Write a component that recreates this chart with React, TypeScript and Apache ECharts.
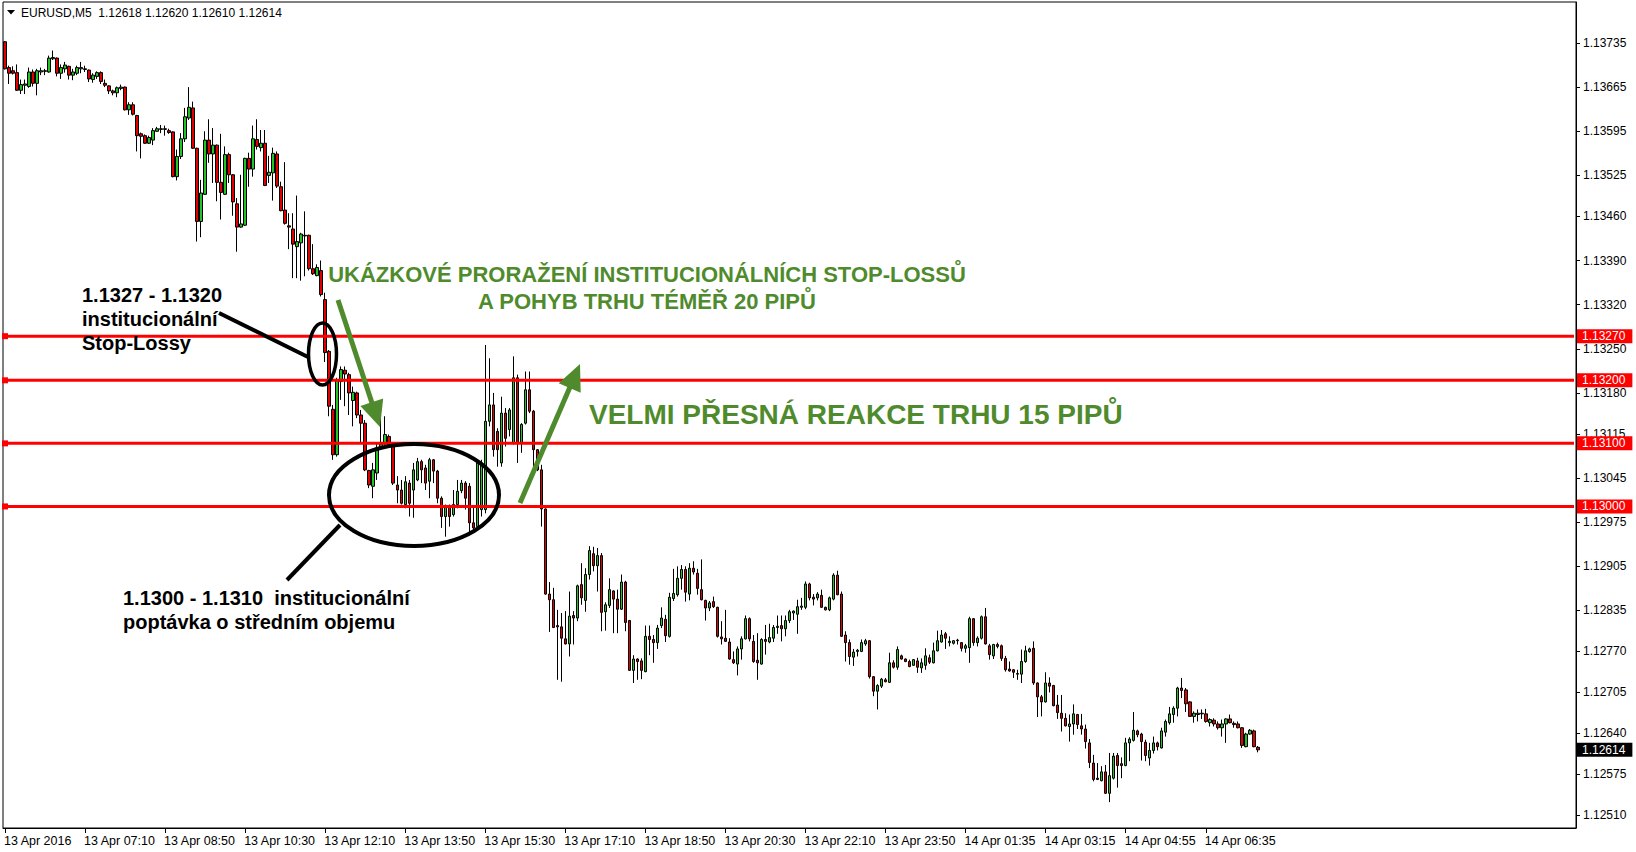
import React, { useEffect, useRef } from "react";
import * as echarts from "echarts";

const symbolName = "EURUSD,M5";

const xTickLabels = [
  "13 Apr 2016", "13 Apr 07:10", "13 Apr 08:50", "13 Apr 10:30", "13 Apr 12:10", "13 Apr 13:50",
  "13 Apr 15:30", "13 Apr 17:10", "13 Apr 18:50", "13 Apr 20:30", "13 Apr 22:10", "13 Apr 23:50",
  "14 Apr 01:35", "14 Apr 03:15", "14 Apr 04:55", "14 Apr 06:35",
];

const yTickValues = [
  1.13735, 1.13665, 1.13595, 1.13525, 1.1346, 1.1339, 1.1332, 1.1325, 1.1318, 1.13115,
  1.13045, 1.12975, 1.12905, 1.12835, 1.1277, 1.12705, 1.1264, 1.12575, 1.1251,
];

const levelLines = [1.1327, 1.132, 1.131, 1.13];

// [open, close, low, high]
const ohlcPart1 = [
  [1.13737, 1.13694, 1.13693, 1.13738], [1.13696, 1.13687, 1.1367, 1.13699], [1.13691, 1.13687, 1.13685, 1.13698],
  [1.13688, 1.1366, 1.13659, 1.13701], [1.1366, 1.13669, 1.13654, 1.13677], [1.13668, 1.1367, 1.13654, 1.13677],
  [1.13666, 1.13689, 1.13664, 1.13696], [1.13689, 1.13671, 1.13666, 1.13693], [1.13671, 1.13691, 1.13652, 1.13694],
  [1.13689, 1.13691, 1.13684, 1.13696], [1.1369, 1.13691, 1.13684, 1.13694], [1.13689, 1.13711, 1.13688, 1.13715],
  [1.1371, 1.13712, 1.13708, 1.13723], [1.13711, 1.13687, 1.13682, 1.13712], [1.13687, 1.13696, 1.13678, 1.13701],
  [1.13694, 1.137, 1.13688, 1.13705], [1.13698, 1.13684, 1.13677, 1.13699], [1.13684, 1.13689, 1.13676, 1.13694],
  [1.13687, 1.13696, 1.13684, 1.13699], [1.13694, 1.13696, 1.13687, 1.13705], [1.13694, 1.13693, 1.13689, 1.13699],
  [1.13692, 1.13678, 1.13673, 1.13693], [1.13677, 1.13684, 1.13672, 1.13687], [1.13682, 1.13688, 1.13678, 1.1369],
  [1.13688, 1.13674, 1.1367, 1.1369], [1.13671, 1.13668, 1.13665, 1.13677], [1.13667, 1.13659, 1.13654, 1.13668],
  [1.13659, 1.13656, 1.13652, 1.13661], [1.13656, 1.13664, 1.13649, 1.13666], [1.13663, 1.13665, 1.1366, 1.13669],
  [1.13665, 1.13629, 1.13628, 1.13666], [1.13629, 1.13637, 1.13621, 1.13641], [1.13637, 1.13622, 1.1362, 1.13641],
  [1.1362, 1.13588, 1.13563, 1.13621], [1.13591, 1.13587, 1.13552, 1.13593], [1.13588, 1.13576, 1.13575, 1.1359],
  [1.13576, 1.13585, 1.13575, 1.13588], [1.13581, 1.13596, 1.13573, 1.136], [1.13595, 1.13599, 1.13594, 1.13602],
  [1.13598, 1.13599, 1.13592, 1.13605], [1.13599, 1.13598, 1.13588, 1.13604], [1.13596, 1.13593, 1.13591, 1.13599],
  [1.13594, 1.13523, 1.13522, 1.13595], [1.13523, 1.13555, 1.13517, 1.13566], [1.13555, 1.13583, 1.13551, 1.13592],
  [1.13583, 1.13618, 1.13578, 1.13632], [1.13616, 1.13633, 1.13613, 1.13665], [1.13632, 1.13568, 1.13567, 1.13642],
  [1.13568, 1.13452, 1.1342, 1.13569], [1.13452, 1.13497, 1.13427, 1.13518], [1.13495, 1.13581, 1.13494, 1.13595],
  [1.13581, 1.13559, 1.13545, 1.13614], [1.13559, 1.13573, 1.13513, 1.136], [1.13573, 1.13514, 1.13484, 1.13574],
  [1.13514, 1.13498, 1.13455, 1.13591], [1.13495, 1.13558, 1.13494, 1.13571], [1.13558, 1.13526, 1.13513, 1.13561],
  [1.13526, 1.13483, 1.13461, 1.13527], [1.1348, 1.13443, 1.13404, 1.13489], [1.13443, 1.13448, 1.13442, 1.13526],
  [1.13446, 1.13552, 1.13445, 1.13553], [1.13552, 1.13535, 1.13507, 1.13561], [1.13535, 1.13583, 1.13523, 1.13604],
  [1.13582, 1.13571, 1.13566, 1.13614], [1.13569, 1.13576, 1.13563, 1.13597], [1.13576, 1.13509, 1.13508, 1.13597],
  [1.13525, 1.1353, 1.13513, 1.13556], [1.13529, 1.1356, 1.13485, 1.13569], [1.13559, 1.13508, 1.13505, 1.13563],
  [1.13507, 1.13469, 1.13468, 1.13515], [1.1347, 1.13449, 1.13447, 1.13546], [1.13445, 1.13443, 1.13408, 1.13465],
  [1.1344, 1.13416, 1.13362, 1.13465], [1.13412, 1.1342, 1.13362, 1.13493], [1.13418, 1.13432, 1.13358, 1.13434],
  [1.1343, 1.13429, 1.13365, 1.13468], [1.1343, 1.13377, 1.13374, 1.13431], [1.13377, 1.13369, 1.13367, 1.13416],
  [1.13366, 1.13379, 1.13365, 1.13384], [1.13374, 1.13336, 1.13333, 1.1339],
];

const ohlcPart2 = [
  [1.13328, 1.13244, 1.13229, 1.13339], [1.13246, 1.13159, 1.13143, 1.13248], [1.13154, 1.13082, 1.13074, 1.13161],
  [1.13082, 1.13201, 1.13079, 1.13204], [1.13198, 1.13217, 1.13169, 1.13222], [1.13216, 1.1321, 1.13159, 1.13222],
  [1.13209, 1.1318, 1.13145, 1.13212], [1.13168, 1.13181, 1.13127, 1.1319], [1.1318, 1.13145, 1.1314, 1.13182],
  [1.13145, 1.13132, 1.13101, 1.13153], [1.13132, 1.13058, 1.13056, 1.13137], [1.13057, 1.13034, 1.13029, 1.13058],
  [1.13032, 1.13058, 1.13013, 1.13069], [1.13053, 1.13093, 1.13042, 1.13101], [1.13093, 1.13099, 1.1309, 1.13143],
  [1.13099, 1.13114, 1.13095, 1.13143], [1.13111, 1.13098, 1.13093, 1.13114], [1.13098, 1.13037, 1.13034, 1.131],
  [1.13034, 1.13026, 1.13005, 1.13048], [1.13026, 1.13005, 1.13003, 1.13042], [1.13003, 1.13039, 1.12997, 1.13048],
  [1.13037, 1.13005, 1.12984, 1.13042], [1.13026, 1.13058, 1.12982, 1.13069], [1.13042, 1.13071, 1.1304, 1.13077],
  [1.13071, 1.13058, 1.13037, 1.13074], [1.13061, 1.13037, 1.13026, 1.13066], [1.1304, 1.13074, 1.13013, 1.13077],
  [1.13074, 1.13056, 1.13037, 1.13075], [1.13056, 1.13013, 1.13005, 1.13058], [1.13013, 1.12984, 1.12966, 1.13016],
  [1.12984, 1.13, 1.12952, 1.13003], [1.13, 1.12984, 1.12968, 1.13003], [1.12987, 1.13003, 1.12984, 1.13026],
  [1.13003, 1.13024, 1.12997, 1.13042], [1.13025, 1.13037, 1.13021, 1.13042], [1.13037, 1.13013, 1.12995, 1.1304],
  [1.13032, 1.12974, 1.12958, 1.13037], [1.12974, 1.12966, 1.12963, 1.13], [1.12968, 1.13069, 1.12963, 1.1307],
  [1.12995, 1.13069, 1.12984, 1.13074], [1.12995, 1.13135, 1.12989, 1.13256], [1.13135, 1.13161, 1.13127, 1.13235],
  [1.13161, 1.1309, 1.13079, 1.1318], [1.13119, 1.1309, 1.13063, 1.13124], [1.13069, 1.13148, 1.13063, 1.13174],
  [1.13148, 1.13108, 1.13095, 1.13156], [1.13122, 1.13153, 1.13111, 1.13156], [1.13101, 1.13204, 1.13098, 1.13238],
  [1.13204, 1.13101, 1.13069, 1.13209], [1.13101, 1.1313, 1.13085, 1.13132], [1.13132, 1.13185, 1.1313, 1.13214],
  [1.13185, 1.13151, 1.13148, 1.13214], [1.13151, 1.1309, 1.13061, 1.13153], [1.1309, 1.13058, 1.13056, 1.13091],
  [1.13058, 1.12996, 1.12968, 1.13066], [1.12996, 1.12861, 1.1286, 1.12997], [1.12861, 1.12852, 1.12801, 1.1288],
  [1.12852, 1.12808, 1.12807, 1.12871], [1.12811, 1.12809, 1.12725, 1.12836], [1.12809, 1.12791, 1.12722, 1.12831],
  [1.1279, 1.12782, 1.12781, 1.12834], [1.12782, 1.12826, 1.12762, 1.12865], [1.12827, 1.12823, 1.12781, 1.12834],
  [1.12823, 1.12874, 1.12818, 1.12876], [1.12876, 1.12855, 1.12844, 1.1291], [1.12851, 1.12892, 1.12833, 1.12902],
  [1.12892, 1.1293, 1.12884, 1.12937], [1.12925, 1.12906, 1.12897, 1.12936], [1.12906, 1.12922, 1.12865, 1.12934],
  [1.12922, 1.12832, 1.12802, 1.12926], [1.12833, 1.12844, 1.12803, 1.12848], [1.12843, 1.12868, 1.12839, 1.12886],
  [1.12866, 1.12853, 1.12799, 1.12867], [1.12853, 1.12837, 1.12799, 1.12868], [1.12837, 1.1288, 1.12836, 1.12892],
  [1.1288, 1.12816, 1.12802, 1.12882], [1.12819, 1.1274, 1.12739, 1.1282], [1.1274, 1.12758, 1.1272, 1.12764],
  [1.12758, 1.12754, 1.12725, 1.12759], [1.12755, 1.1274, 1.12726, 1.12759],
];

const ohlcPart3 = [
  [1.12738, 1.12794, 1.12737, 1.12811], [1.12794, 1.12789, 1.12764, 1.12811], [1.12789, 1.12784, 1.12752, 1.12796],
  [1.12784, 1.12807, 1.12774, 1.12812], [1.12811, 1.12823, 1.12807, 1.1284], [1.12821, 1.12795, 1.12785, 1.12828],
  [1.12794, 1.12856, 1.12792, 1.12863], [1.12854, 1.12862, 1.1285, 1.12901], [1.1286, 1.12886, 1.12857, 1.12905],
  [1.12886, 1.129, 1.12868, 1.12907], [1.129, 1.12864, 1.12849, 1.12905], [1.12861, 1.12902, 1.12851, 1.1291],
  [1.12902, 1.12896, 1.12892, 1.12913], [1.12894, 1.1287, 1.1286, 1.12901], [1.12868, 1.12852, 1.12851, 1.12916],
  [1.12851, 1.12839, 1.12819, 1.12852], [1.12839, 1.12847, 1.12834, 1.1285], [1.12849, 1.12841, 1.12839, 1.12857],
  [1.1284, 1.12794, 1.12792, 1.12841], [1.12793, 1.1279, 1.12781, 1.12818], [1.12791, 1.12786, 1.12785, 1.12836],
  [1.12785, 1.12758, 1.12757, 1.12791], [1.12757, 1.12752, 1.1275, 1.1277], [1.1275, 1.12774, 1.12732, 1.12778],
  [1.12774, 1.1279, 1.12757, 1.12794], [1.1279, 1.12822, 1.12789, 1.12827], [1.12822, 1.1279, 1.12786, 1.12824],
  [1.12786, 1.12754, 1.12752, 1.12796], [1.12756, 1.12752, 1.12725, 1.12799], [1.1275, 1.12789, 1.12749, 1.12791],
  [1.12789, 1.12786, 1.12765, 1.12812], [1.12785, 1.12792, 1.12783, 1.12814], [1.12791, 1.12808, 1.12785, 1.12812],
  [1.12808, 1.1281, 1.12798, 1.12827], [1.12811, 1.12806, 1.12786, 1.12827], [1.12806, 1.12819, 1.12794, 1.12827],
  [1.12819, 1.12833, 1.12815, 1.12836], [1.12831, 1.12834, 1.1282, 1.12835], [1.12829, 1.12841, 1.12798, 1.12852],
  [1.1284, 1.12842, 1.12836, 1.12855], [1.1284, 1.12877, 1.12837, 1.12881], [1.12877, 1.12855, 1.12851, 1.12879],
  [1.12856, 1.12853, 1.12843, 1.12861], [1.12855, 1.12861, 1.12851, 1.12864], [1.12859, 1.1284, 1.12839, 1.12868],
  [1.1284, 1.12836, 1.12835, 1.12841], [1.12836, 1.12855, 1.12834, 1.12857], [1.12853, 1.12891, 1.12851, 1.12894],
  [1.12891, 1.1286, 1.12859, 1.12898], [1.12861, 1.12794, 1.12793, 1.12865], [1.12796, 1.12784, 1.12754, 1.12802],
  [1.12784, 1.12762, 1.12749, 1.12789], [1.12761, 1.12769, 1.12747, 1.12774], [1.1277, 1.12772, 1.12762, 1.12774],
  [1.1277, 1.12784, 1.12769, 1.12789], [1.12782, 1.12787, 1.12779, 1.1279], [1.12787, 1.1273, 1.12727, 1.12788],
  [1.1273, 1.12707, 1.12699, 1.12731], [1.12707, 1.12716, 1.12678, 1.12718], [1.12715, 1.12726, 1.12712, 1.12728],
  [1.12725, 1.12722, 1.12721, 1.12728], [1.12721, 1.12752, 1.1272, 1.12768], [1.12752, 1.12745, 1.12743, 1.12756],
  [1.12745, 1.12773, 1.12741, 1.12778], [1.12763, 1.12758, 1.12757, 1.12765], [1.12758, 1.12754, 1.12753, 1.12759],
  [1.12754, 1.12746, 1.12745, 1.12757], [1.12748, 1.12757, 1.12747, 1.12758], [1.12755, 1.12745, 1.12736, 1.1276],
  [1.12744, 1.12752, 1.12736, 1.12759], [1.12748, 1.12763, 1.12741, 1.12775], [1.1276, 1.12753, 1.1275, 1.12765],
  [1.12752, 1.12771, 1.12751, 1.12784], [1.12771, 1.12787, 1.1277, 1.12803], [1.12785, 1.12796, 1.12784, 1.12804],
  [1.12798, 1.12791, 1.12774, 1.12801], [1.12784, 1.12786, 1.12778, 1.12794], [1.12783, 1.12787, 1.12781, 1.12788],
  [1.12787, 1.12788, 1.12781, 1.1279], [1.12784, 1.12775, 1.1277, 1.12785],
];

const ohlcPart4 = [
  [1.12775, 1.12779, 1.12768, 1.12782], [1.12776, 1.12822, 1.12752, 1.12825], [1.12822, 1.12784, 1.12779, 1.12823],
  [1.12784, 1.12791, 1.12778, 1.12794], [1.12791, 1.12825, 1.12789, 1.12827], [1.12825, 1.12782, 1.12781, 1.12839],
  [1.12779, 1.12765, 1.12757, 1.12782], [1.12763, 1.12781, 1.12758, 1.12782], [1.12781, 1.12778, 1.12775, 1.12784],
  [1.12779, 1.12759, 1.12755, 1.12781], [1.12759, 1.12741, 1.12738, 1.12763], [1.12742, 1.12739, 1.12738, 1.12754],
  [1.12741, 1.12737, 1.12728, 1.12742], [1.12735, 1.12734, 1.12725, 1.12741], [1.12734, 1.12754, 1.1272, 1.12773],
  [1.12754, 1.12771, 1.12752, 1.12779], [1.1277, 1.12774, 1.12768, 1.12776], [1.12775, 1.1272, 1.12717, 1.12786],
  [1.1272, 1.12698, 1.12666, 1.12721], [1.12698, 1.1269, 1.12667, 1.12701], [1.1269, 1.1272, 1.12689, 1.12737],
  [1.1272, 1.12715, 1.12705, 1.12729], [1.12716, 1.12684, 1.12683, 1.12717], [1.12685, 1.12673, 1.12663, 1.12701],
  [1.12672, 1.12664, 1.12643, 1.12701], [1.12664, 1.12652, 1.12651, 1.12672], [1.12651, 1.12655, 1.12627, 1.1267],
  [1.12655, 1.12671, 1.12638, 1.12686], [1.1267, 1.12654, 1.12647, 1.12671], [1.12652, 1.12647, 1.12638, 1.12671],
  [1.12647, 1.12627, 1.12616, 1.12654], [1.12625, 1.12594, 1.12585, 1.12631], [1.12593, 1.12567, 1.12564, 1.12606],
  [1.12569, 1.12567, 1.12566, 1.12593], [1.12565, 1.12579, 1.12564, 1.12588], [1.12579, 1.12545, 1.12544, 1.1259],
  [1.12545, 1.12573, 1.12531, 1.12609], [1.12569, 1.12604, 1.12567, 1.12609], [1.12605, 1.12589, 1.12554, 1.12609],
  [1.12592, 1.12589, 1.12569, 1.12602], [1.12589, 1.12625, 1.12588, 1.12633], [1.12625, 1.12631, 1.12596, 1.12634],
  [1.12629, 1.12645, 1.12627, 1.12674], [1.12644, 1.12638, 1.12634, 1.12646], [1.12639, 1.12627, 1.12597, 1.12641],
  [1.12626, 1.12605, 1.12596, 1.1263], [1.12601, 1.12613, 1.12589, 1.12625], [1.12613, 1.12625, 1.12608, 1.12635],
  [1.12625, 1.12619, 1.12613, 1.12627], [1.12617, 1.12644, 1.12616, 1.12649], [1.12642, 1.12659, 1.12635, 1.12662],
  [1.12657, 1.12671, 1.12654, 1.12682], [1.1267, 1.1268, 1.12657, 1.12683], [1.1268, 1.12712, 1.12667, 1.12714],
  [1.12712, 1.12708, 1.12696, 1.12728], [1.12709, 1.12687, 1.12674, 1.12712], [1.1269, 1.12667, 1.12666, 1.12691],
  [1.12667, 1.12672, 1.12657, 1.12675], [1.1267, 1.12672, 1.12659, 1.12678], [1.12672, 1.12671, 1.12663, 1.12678],
  [1.12671, 1.12659, 1.12657, 1.12679], [1.12657, 1.12662, 1.12651, 1.12664], [1.12661, 1.12655, 1.12651, 1.12664],
  [1.12655, 1.12649, 1.12646, 1.12659], [1.12649, 1.12655, 1.12635, 1.12662], [1.12655, 1.12663, 1.12625, 1.12664],
  [1.12663, 1.12657, 1.12656, 1.1267], [1.12656, 1.12654, 1.12649, 1.12659], [1.12655, 1.12649, 1.12648, 1.12659],
  [1.12649, 1.12621, 1.12617, 1.1265], [1.12619, 1.12639, 1.12618, 1.12641], [1.12639, 1.12645, 1.12638, 1.12647],
  [1.12644, 1.12619, 1.12618, 1.12646], [1.12618, 1.12614, 1.1261, 1.1262],
];

const TOTAL_SLOTS = 393;
const FONT = '"Liberation Sans", Arial, sans-serif';
const GREEN = "#4f8b2c";

export default function App() {
  const ref = useRef<HTMLDivElement>(null);

  useEffect(() => {
    document.body.style.margin = "0";
    const el = ref.current;
    if (!el) return;
    const chart = echarts.init(el, null, { renderer: "svg" });

    const rows = [...ohlcPart1, ...ohlcPart2, ...ohlcPart3, ...ohlcPart4];
    const categories = Array.from({ length: TOTAL_SLOTS }, (_, i) => String(i));
    const last = rows[rows.length - 1];
    const f5 = (v: number) => v.toFixed(5);
    const header = `${symbolName}\u00a0\u00a0${f5(last[0])} ${f5(last[3])} ${f5(last[2])} ${f5(last[1])}`;
    const isTick = (i: number) => i % 20 === 0 && i / 20 < xTickLabels.length;

    const tag = (v: number, bg: string) => ({
      show: true,
      formatter: () => f5(v),
      distance: 3,
      color: "#fff",
      backgroundColor: bg,
      padding: [1, 7, 0, 5],
      fontSize: 12,
      fontFamily: FONT,
      lineHeight: 13,
      valueAnimation: false,
    });

    const levelSeries = levelLines.map((v, k) => ({
      type: "line",
      name: "level" + k,
      data: [
        [0, v],
        [TOTAL_SLOTS - 1, v],
      ],
      silent: true,
      clip: false,
      z: 5,
      showSymbol: true,
      symbol: "rect",
      symbolSize: 6,
      itemStyle: { color: "#ff0000" },
      lineStyle: { color: "#ff0000", width: 3, type: "solid" },
      endLabel: tag(v, "#ff0000"),
      label: { show: false },
    }));

    const priceSeries = {
      type: "line",
      name: "price",
      data: [
        [0, last[1]],
        [TOTAL_SLOTS - 1, last[1]],
      ],
      silent: true,
      clip: false,
      z: 5,
      showSymbol: false,
      symbol: "none",
      lineStyle: { color: "#ffffff", width: 0 },
      endLabel: tag(last[1], "#000"),
    };

    const black = { stroke: "#000", fill: "none" };

    const option: any = {
      animation: false,
      backgroundColor: "#fff",
      grid: {
        left: 3,
        right: 60,
        top: 2,
        bottom: 24,
        show: true,
        borderColor: "#000",
        borderWidth: 1,
      },
      xAxis: {
        type: "category",
        data: categories,
        boundaryGap: true,
        axisLine: { show: true, lineStyle: { color: "#000", width: 1 } },
        axisTick: {
          show: true,
          alignWithLabel: true,
          interval: (i: number) => isTick(i),
          length: 5,
          lineStyle: { color: "#000" },
        },
        axisLabel: {
          interval: (i: number) => isTick(i),
          formatter: (_v: string, i: number) => xTickLabels[i / 20] ?? "",
          align: "left",
          padding: [0, 0, 0, -1],
          color: "#000",
          fontSize: 12.5,
          fontFamily: FONT,
          margin: 6,
        },
        splitLine: { show: false },
      },
      yAxis: {
        type: "value",
        position: "right",
        min: 1.1249,
        max: 1.138,
        axisLine: { show: true, lineStyle: { color: "#000", width: 1 } },
        axisTick: {
          show: true,
          length: 4,
          customValues: yTickValues,
          lineStyle: { color: "#000" },
        },
        axisLabel: {
          customValues: yTickValues,
          formatter: (v: number) => v.toFixed(5),
          color: "#000",
          fontSize: 12,
          fontFamily: FONT,
          margin: 7,
        },
        splitLine: { show: false },
      },
      series: [
        ...levelSeries,
        priceSeries,
        {
          type: "candlestick",
          data: rows,
          barWidth: 3,
          z: 3,
          itemStyle: {
            color: "#22c322",
            color0: "#e00000",
            borderColor: "#000",
            borderColor0: "#000",
            borderColorDoji: "#000",
            borderWidth: 1,
          },
        },
      ],
      graphic: [
        {
          type: "polygon",
          z: 100,
          shape: { points: [[7, 10], [15, 10], [11, 14.5]] },
          style: { fill: "#000" },
        },
        {
          type: "text",
          z: 100,
          x: 21,
          y: 12.5,
          style: { text: header, fill: "#000", font: `12px ${FONT}`, verticalAlign: "middle", align: "left" },
        },
        {
          type: "text",
          z: 100,
          x: 647,
          y: 274.5,
          style: {
            text: "UKÁZKOVÉ PRORAŽENÍ INSTITUCIONÁLNÍCH STOP-LOSSŮ",
            fill: GREEN,
            font: `bold 22px ${FONT}`,
            align: "center",
            verticalAlign: "middle",
          },
        },
        {
          type: "text",
          z: 100,
          x: 647,
          y: 301.5,
          style: {
            text: "A POHYB TRHU TÉMĚŘ 20 PIPŮ",
            fill: GREEN,
            font: `bold 22px ${FONT}`,
            align: "center",
            verticalAlign: "middle",
          },
        },
        {
          type: "text",
          z: 100,
          x: 589,
          y: 414,
          style: {
            text: "VELMI PŘESNÁ REAKCE TRHU 15 PIPŮ",
            fill: GREEN,
            font: `bold 28px ${FONT}`,
            align: "left",
            verticalAlign: "middle",
          },
        },
        ...["1.1327 - 1.1320", "institucionální", "Stop-Lossy"].map((t, k) => ({
          type: "text",
          z: 100,
          x: 82,
          y: 295 + k * 24,
          style: { text: t, fill: "#000", font: `bold 20px ${FONT}`, align: "left", verticalAlign: "middle" },
        })),
        ...["1.1300 - 1.1310\u00a0\u00a0institucionální", "poptávka o středním objemu"].map((t, k) => ({
          type: "text",
          z: 100,
          x: 123,
          y: 598 + k * 24,
          style: { text: t, fill: "#000", font: `bold 20px ${FONT}`, align: "left", verticalAlign: "middle" },
        })),
        {
          type: "ellipse",
          z: 100,
          shape: { cx: 322.5, cy: 354, rx: 14, ry: 31 },
          style: { ...black, lineWidth: 3.5 },
        },
        {
          type: "ellipse",
          z: 100,
          shape: { cx: 414, cy: 495, rx: 85, ry: 51 },
          style: { ...black, lineWidth: 4 },
        },
        {
          type: "line",
          z: 100,
          shape: { x1: 219, y1: 313, x2: 308, y2: 357 },
          style: { stroke: "#000", lineWidth: 4 },
        },
        {
          type: "line",
          z: 100,
          shape: { x1: 287, y1: 580, x2: 340, y2: 525 },
          style: { stroke: "#000", lineWidth: 4 },
        },
        {
          type: "line",
          z: 100,
          shape: { x1: 338, y1: 300, x2: 372, y2: 403 },
          style: { stroke: GREEN, lineWidth: 5 },
        },
        {
          type: "polygon",
          z: 100,
          shape: { points: [[380, 427], [360.4, 406.1], [383.2, 398.5]] },
          style: { fill: GREEN },
        },
        {
          type: "line",
          z: 100,
          shape: { x1: 520, y1: 503, x2: 570, y2: 387 },
          style: { stroke: GREEN, lineWidth: 5 },
        },
        {
          type: "polygon",
          z: 100,
          shape: { points: [[580, 364], [580.7, 392.7], [558.7, 383.2]] },
          style: { fill: GREEN },
        },
      ],
    };

    chart.setOption(option);
    return () => chart.dispose();
  }, []);

  return <div ref={ref} style={{ width: 1636, height: 852 }} />;
}
